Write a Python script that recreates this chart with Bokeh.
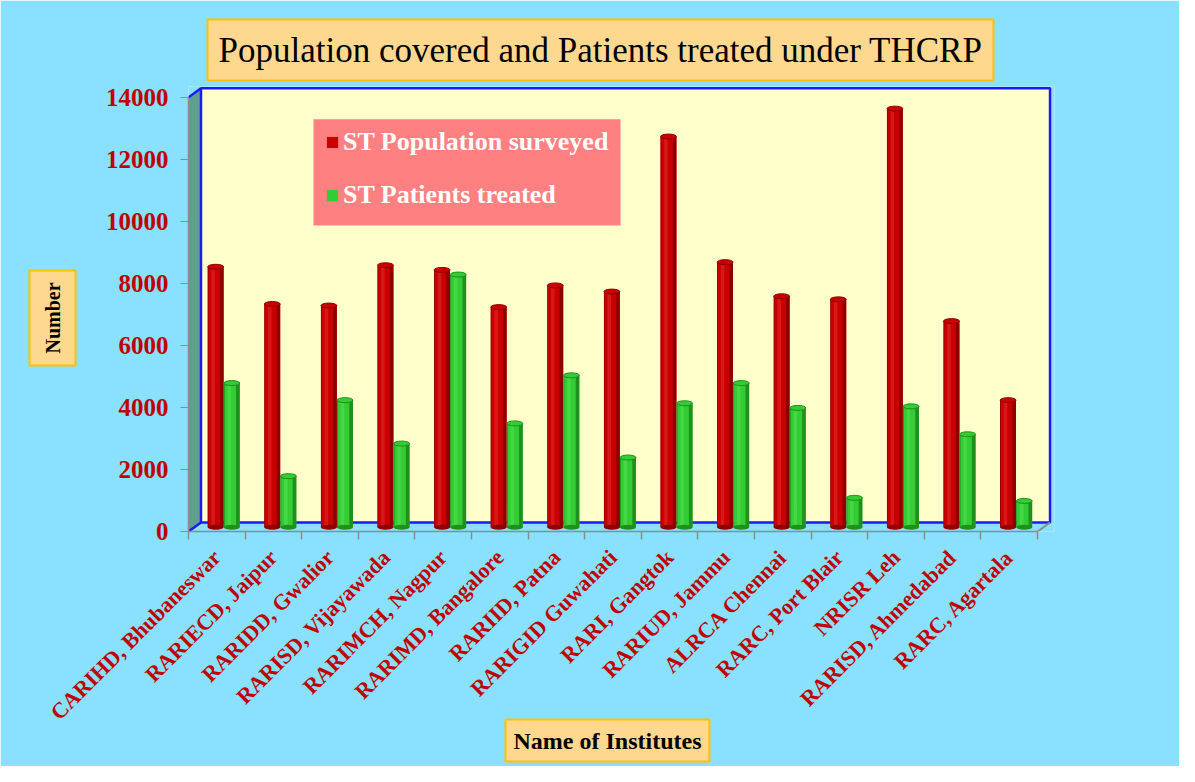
import math
from bokeh.plotting import figure
from bokeh.models import (Range1d, LinearAxis, FixedTicker, Legend,
                          LegendItem, ColumnDataSource, Title)
from bokeh.embed import file_html
from bokeh.resources import INLINE

# ---------------- data ----------------
institutes = ["CARIHD, Bhubaneswar", "RARIECD, Jaipur", "RARIDD, Gwalior",
              "RARISD, Vijayawada", "RARIMCH, Nagpur", "RARIMD, Bangalore",
              "RARIID, Patna", "RARIGID Guwahati", "RARI, Gangtok",
              "RARIUD, Jammu", "ALRCA Chennai", "RARC, Port Blair",
              "NRISR Leh", "RARISD, Ahmedabad", "RARC, Agartala"]
population = [8400, 7200, 7150, 8450, 8300, 7100, 7800, 7600, 12600,
              8550, 7450, 7350, 13500, 6650, 4100]
patients = [4650, 1650, 4100, 2700, 8150, 3350, 4900, 2250, 4000,
            4650, 3850, 950, 3900, 3000, 850]
y_ticks = [0, 2000, 4000, 6000, 8000, 10000, 12000, 14000]
series_names = ["ST Population surveyed", "ST Patients treated"]
title_text = "Population covered and Patients treated under THCRP"
y_title = "Number"
x_title = "Name of Institutes"

# ---------------- geometry / style ----------------
N = len(institutes)
X_END = 15.3
Y_END = 14350
PX_PER_X = 849 / 15.0
PX_PER_Y = 434 / 14000.0
FRAME_W = round(X_END * PX_PER_X)
FRAME_H = round(Y_END * PX_PER_Y)
LEFT = 188
BOTTOM_Y = 531                      # canvas y of the value 0
TOP = BOTTOM_Y - FRAME_H
TOTAL_W, TOTAL_H = 1179, 766
DX = 12.5 / PX_PER_X        # 3D depth (x)
DY = 9 / PX_PER_Y           # 3D depth (y)
BASE = 4.2 / PX_PER_Y       # bars sit mid-depth
BAR_W = 0.28
CAP_H = 5 / PX_PER_Y

BG = "#8AE0FF"
WALL = "#FFFFCC"
SIDE = "#5F9F90"
BLUE = "#1A1AFF"
GRAY = "#8C8C8C"
TICK_RED = "#C00000"
BOX_FILL = "#FFD88F"
BOX_LINE = "#FFC000"
LEGEND_FILL = "#FF8080"
SERIF = "Liberation Serif"


def cx(canvas_x):
    return (canvas_x - LEFT) / PX_PER_X


def cy(canvas_y):
    return (BOTTOM_Y - canvas_y) / PX_PER_Y


p = figure(frame_width=FRAME_W, frame_height=FRAME_H,
           min_border_left=LEFT, min_border_top=TOP,
           min_border_right=TOTAL_W - LEFT - FRAME_W,
           min_border_bottom=TOTAL_H - BOTTOM_Y,
           x_range=Range1d(0, X_END), y_range=Range1d(0, Y_END),
           x_axis_location=None,
           output_backend="svg", toolbar_location=None)
p.extra_x_ranges = {"cat": Range1d(-0.5, X_END - 0.5)}
p.background_fill_color = BG
p.border_fill_color = BG
p.outline_line_color = None
p.xgrid.visible = False
p.ygrid.visible = False

# ---------------- 3D walls ----------------
p.patch([0, DX, DX, 0], [0, DY, 14000 + DY, 14000], fill_color=SIDE,
        line_color=None)
p.quad(left=DX, right=N + DX, bottom=DY, top=14000 + DY, fill_color=WALL,
       line_color=BLUE, line_width=2.5)
p.line([0, DX], [14000, 14000 + DY], line_color=BLUE, line_width=2.5)
p.line([0, DX], [0, DY], line_color=BLUE, line_width=2.5)
p.line([N, N + DX], [0, DY], line_color=GRAY, line_width=2)

# legend panel (pink box)
p.quad(left=cx(313), right=cx(620), bottom=cy(225), top=cy(119),
       fill_color=LEGEND_FILL, line_color=None)

# ---------------- cylinders ----------------
def cylinder(offset, vals, dark, body, light):
    xs = [i + 0.5 + offset for i in range(N)]
    tops = [v + BASE for v in vals]
    src = ColumnDataSource(dict(x=xs, top=tops,
                                xb=[x - 0.025 for x in xs],
                                xl=[x - 0.045 for x in xs]))
    r = p.vbar(x="x", width=BAR_W, bottom=BASE, top="top", source=src,
               fill_color=body, line_color=None)
    p.vbar(x="x", width=BAR_W, bottom=BASE, top="top", source=src,
           fill_color=dark, line_color=None)
    p.vbar(x="xb", width=BAR_W * 0.72, bottom=BASE, top="top", source=src,
           fill_color=body, line_color=None)
    p.vbar(x="xl", width=BAR_W * 0.22, bottom=BASE, top="top", source=src,
           fill_color=light, line_color=None)
    p.ellipse(x="x", y=BASE, width=BAR_W, height=CAP_H, source=src,
              fill_color=dark, line_color=None)
    p.ellipse(x="x", y="top", width=BAR_W, height=CAP_H, source=src,
              fill_color=body, line_color=dark, line_width=1)
    return r


r_pop = cylinder(-0.02, population, "#8E0000", "#C80000", "#D81818")
r_pat = cylinder(0.265, patients, "#1F8F1F", "#33CC33", "#45D845")

# ---------------- axes ----------------
yax = p.yaxis[0]
yax.ticker = FixedTicker(ticks=y_ticks)
yax.bounds = (0, 14000)
yax.axis_line_color = GRAY
yax.axis_line_width = 1.5
yax.major_tick_line_color = GRAY
yax.major_tick_out = 8
yax.major_tick_in = 0
yax.minor_tick_line_color = None
yax.major_label_text_color = TICK_RED
yax.major_label_text_font = SERIF
yax.major_label_text_font_style = "bold"
yax.major_label_text_font_size = "25px"
yax.major_label_standoff = 12

xcat = LinearAxis(x_range_name="cat",
                  ticker=FixedTicker(ticks=list(range(N)),
                                     minor_ticks=[i - 0.5 for i in range(N + 1)]),
                  bounds=(-0.5, N - 0.5),
                  major_label_overrides={i: name for i, name in enumerate(institutes)},
                  axis_line_color=GRAY, axis_line_width=1.5,
                  major_tick_line_color=None,
                  minor_tick_line_color=GRAY, minor_tick_out=8, minor_tick_in=0,
                  minor_tick_line_width=1.5,
                  major_tick_out=0, major_tick_in=0,
                  major_label_orientation=math.pi / 4,
                  major_label_text_color=TICK_RED,
                  major_label_text_font=SERIF,
                  major_label_text_font_style="bold",
                  major_label_text_font_size="22px",
                  major_label_standoff=14)
p.add_layout(xcat, "below")

# ---------------- legend ----------------
legend = Legend(items=[LegendItem(label=series_names[0], renderers=[r_pop]),
                       LegendItem(label=series_names[1], renderers=[r_pat])],
                location=(137, BOTTOM_Y - 210),
                background_fill_alpha=0.0, border_line_color=None,
                label_text_color="white", label_text_font=SERIF,
                label_text_font_style="bold", label_text_font_size="26px",
                glyph_width=14, glyph_height=14, label_height=24,
                spacing=23, label_standoff=4, margin=0)
p.add_layout(legend)

# ---------------- titles ----------------
p.title = Title(text=title_text, align="left", offset=207 - LEFT,
                text_font=SERIF, text_font_size="35px",
                text_font_style="normal", text_color="black",
                background_fill_color=BOX_FILL, border_line_color=BOX_LINE,
                border_line_width=2, padding=11, standoff=12)

ytitle = Title(text=y_title, align="left", offset=BOTTOM_Y - 365,
               text_font=SERIF,
               text_font_size="20px", text_font_style="bold",
               text_color="black", background_fill_color=BOX_FILL,
               border_line_color=BOX_LINE, border_line_width=2,
               padding=12, standoff=54)
p.add_layout(ytitle, "left")

xtitle = Title(text=x_title, align="left", offset=505 - LEFT,
               vertical_align="top",
               text_font=SERIF,
               text_font_size="24px", text_font_style="bold",
               text_color="black", background_fill_color=BOX_FILL,
               border_line_color=BOX_LINE, border_line_width=2,
               padding=8, standoff=-34)
p.add_layout(xtitle, "below")

open("out.html", "w").write(file_html(p, INLINE))
